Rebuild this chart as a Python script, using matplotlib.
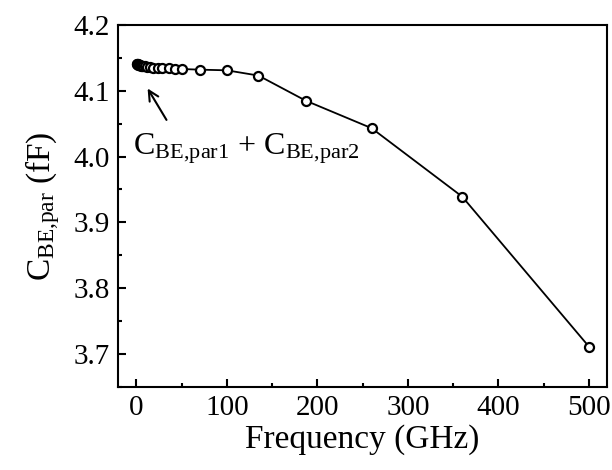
import numpy as np
import matplotlib
matplotlib.use("Agg")
import matplotlib.pyplot as plt
from matplotlib.ticker import MultipleLocator

plt.rcParams['font.family'] = ['Liberation Serif', 'DejaVu Serif']
plt.rcParams['mathtext.fontset'] = 'custom'
plt.rcParams['mathtext.rm'] = 'Liberation Serif'
plt.rcParams['mathtext.it'] = 'Liberation Serif:italic'

# frequency points (GHz) and extracted parasitic capacitance (fF)
freq = [0.5, 1, 1.5, 2, 3, 4, 5, 6, 8, 10, 12, 15, 19, 24, 29, 36, 43, 50,
        70, 100, 135, 187, 260, 360, 500]
c_par = [4.140, 4.140, 4.140, 4.139, 4.139, 4.139, 4.138, 4.138, 4.137, 4.137,
         4.136, 4.136, 4.135, 4.135, 4.134, 4.134, 4.133, 4.133,
         4.132, 4.131, 4.123, 4.085, 4.043, 3.939, 3.711]

fig = plt.figure(figsize=(6.12, 4.70), dpi=100)
ax = fig.add_axes([0.193, 0.177, 0.799, 0.770])

ax.plot(freq, c_par, '-', color='black', lw=1.3, marker='o', ms=6.5,
        mfc='white', mec='black', mew=1.6)

ax.set_xlim(-20, 520)
ax.set_ylim(3.65, 4.2)
ax.xaxis.set_major_locator(MultipleLocator(100))
ax.xaxis.set_minor_locator(MultipleLocator(50))
ax.yaxis.set_major_locator(MultipleLocator(0.1))
ax.yaxis.set_minor_locator(MultipleLocator(0.05))
ax.yaxis.set_major_formatter(matplotlib.ticker.FormatStrFormatter('%.1f'))
ax.tick_params(which='both', direction='in', top=False, right=False,
               labelsize=21, width=1.5)
ax.tick_params(which='major', length=6, pad=6)
ax.tick_params(which='minor', length=3)
for s in ax.spines.values():
    s.set_linewidth(1.5)

ax.set_xlabel('Frequency (GHz)', fontsize=24, labelpad=2)
ax.set_ylabel(r'$\mathrm{C_{BE{,}par}}$ (fF)', fontsize=24, labelpad=8)

ax.annotate('', xy=(11, 4.107), xytext=(35, 4.052),
            arrowprops=dict(arrowstyle='->', color='black', lw=1.5,
                            mutation_scale=18))
ax.text(-4, 4.012, r'$\mathrm{C_{BE{,}par1}}$ + $\mathrm{C_{BE{,}par2}}$',
        fontsize=23, ha='left', va='center')

fig.savefig('out.png', dpi=100)
